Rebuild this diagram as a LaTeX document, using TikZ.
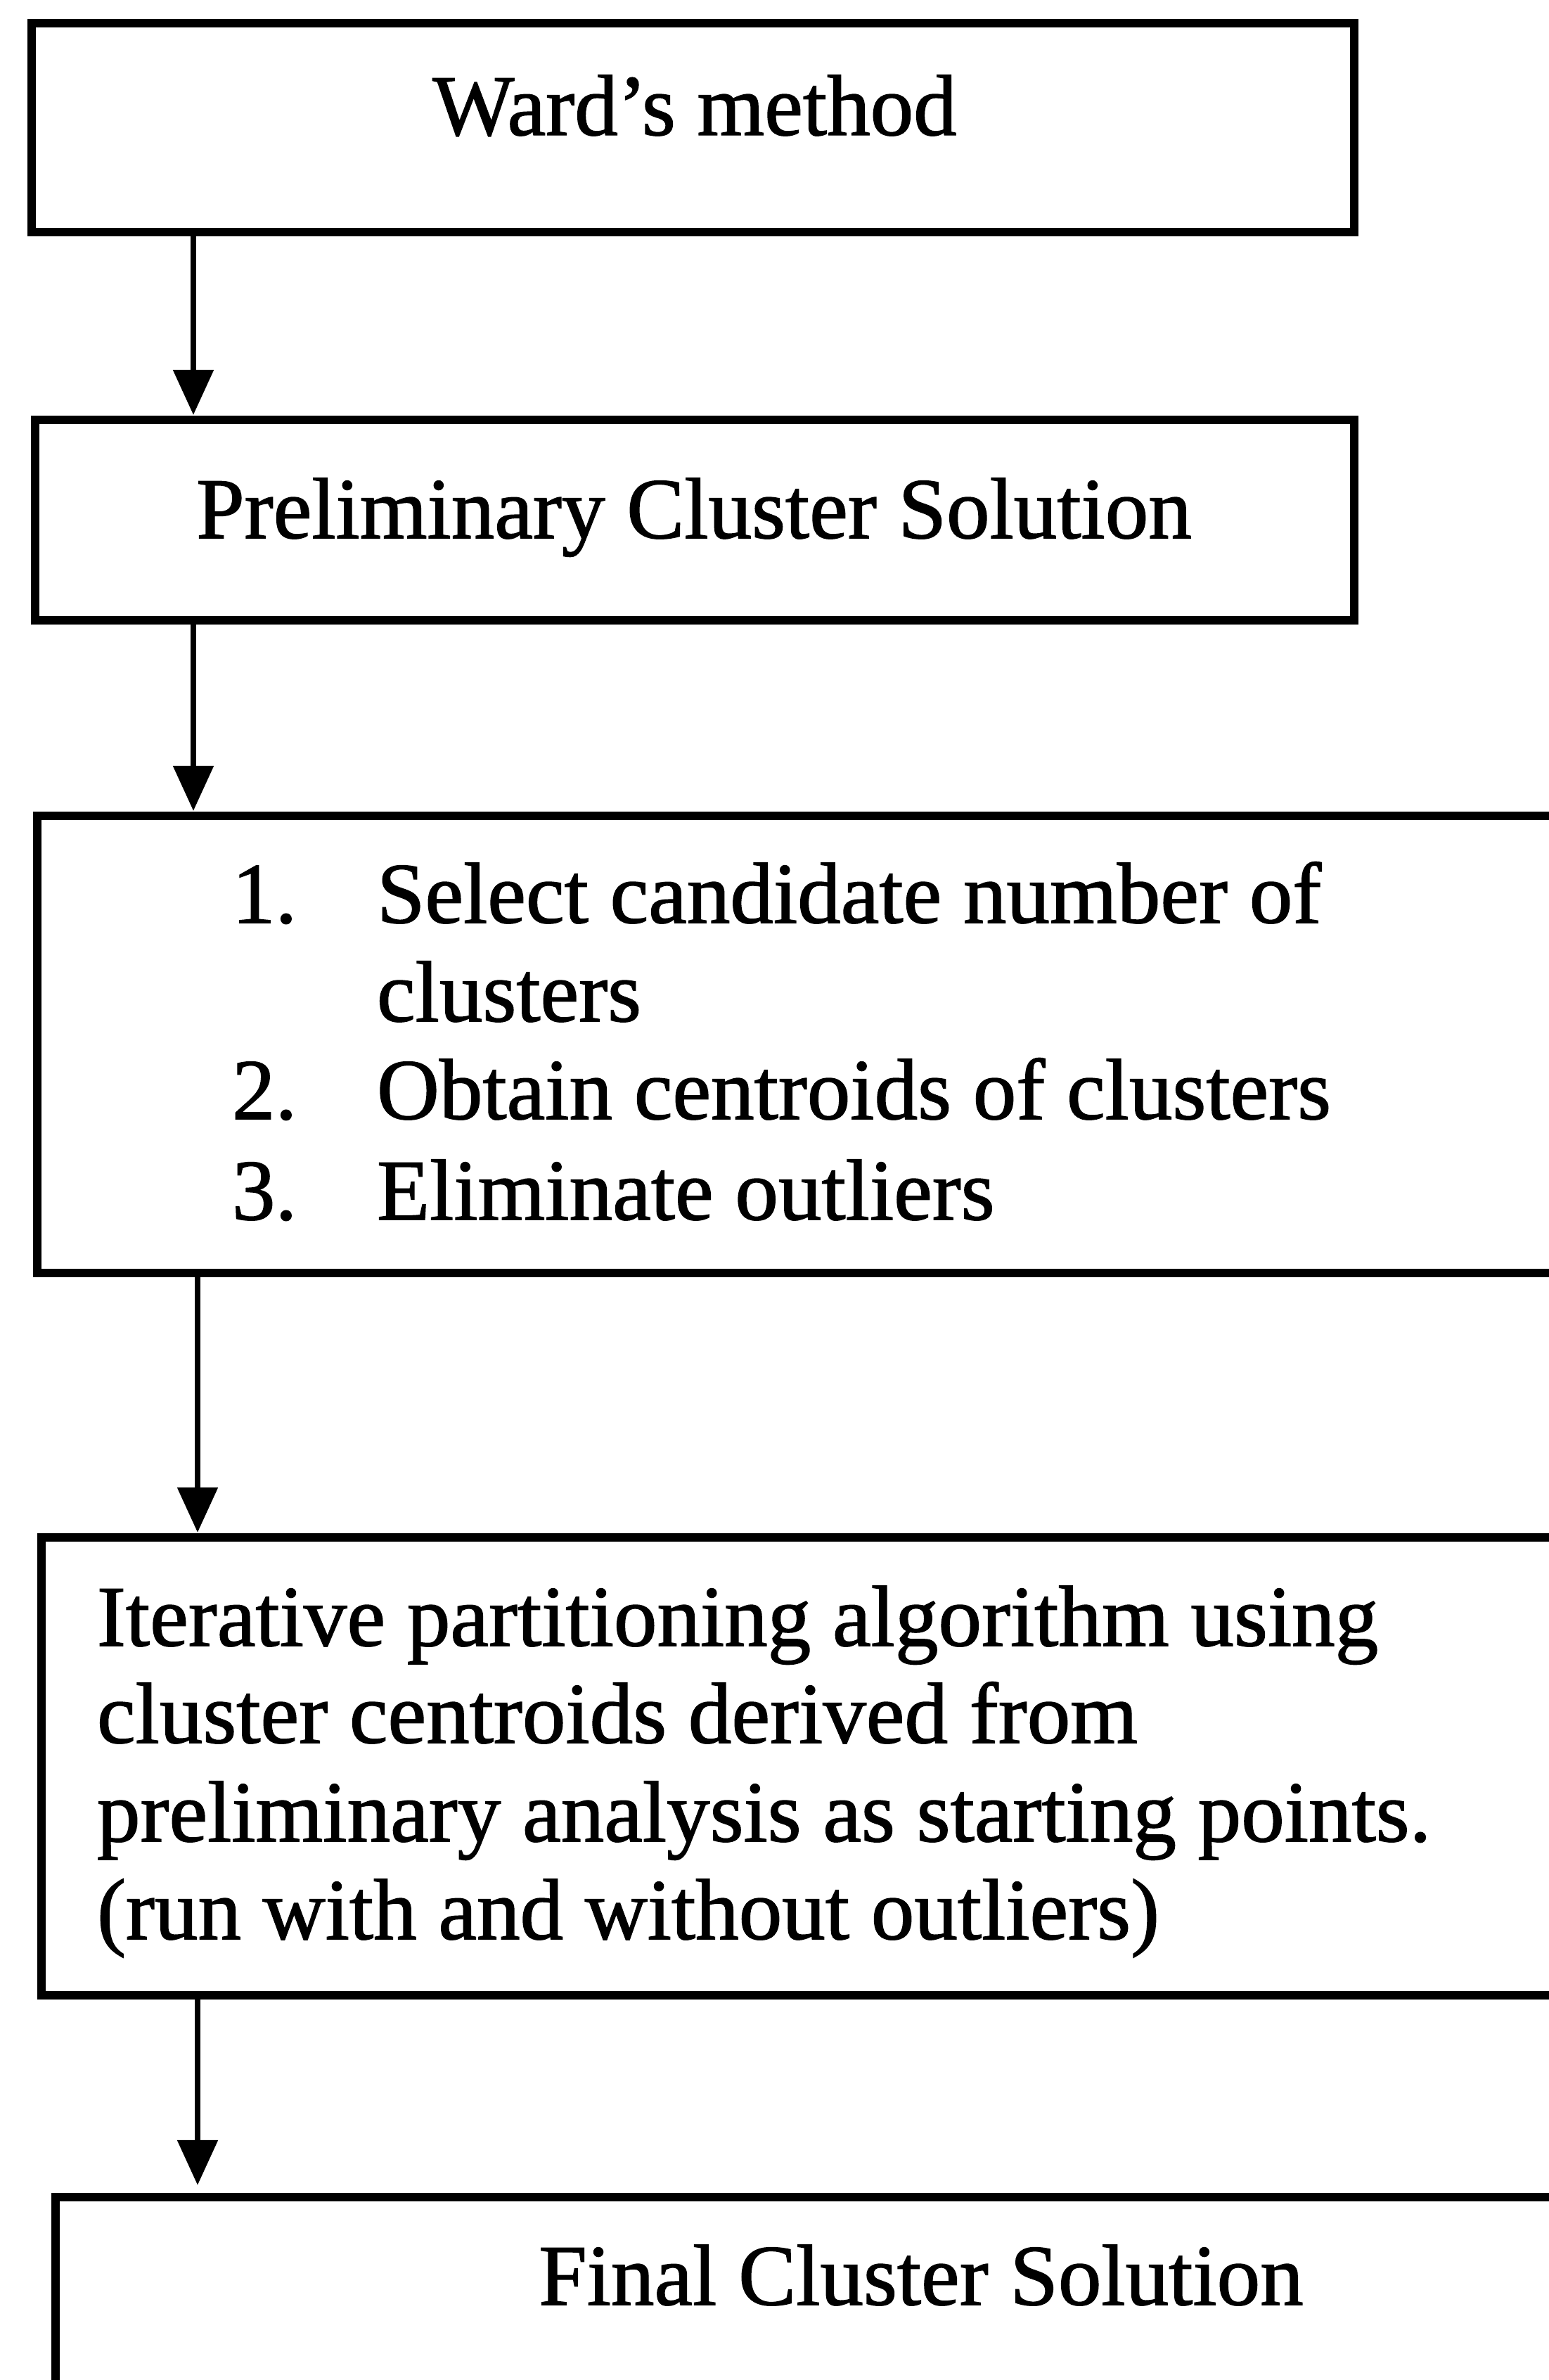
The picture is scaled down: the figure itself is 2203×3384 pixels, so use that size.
\documentclass[tikz,border=0pt]{standalone}
\usepackage{fontspec}
\setmainfont[FakeBold=1.2]{Liberation Serif}
\usetikzlibrary{arrows.meta}
\begin{document}
\begin{tikzpicture}[x=0.01cm,y=-0.01cm,
  box/.style={draw, line width=3.4pt, rectangle, inner sep=0pt, outer sep=0pt, anchor=north west},
  arr/.style={line width=2.4pt, -{Triangle[width=0.56cm,length=0.64cm]}, shorten >=0.07cm},
  txt/.style={inner sep=0pt, outer sep=0pt, font=\fontsize{35pt}{40pt}\selectfont}]
\useasboundingbox (0,0) rectangle (2203,3384);
\clip (0,0) rectangle (2203,3384);
\fill[white] (0,0) rectangle (2203,3384);

% boxes (the lower three run past the right edge of the page)
\node[box, minimum width=18.80cm, minimum height=2.97cm] (b1) at (45,33) {};
\node[box, minimum width=18.75cm, minimum height=2.85cm] (b2) at (50,597) {};
\node[box, minimum width=22.00cm, minimum height=6.50cm] (b3) at (53,1160) {};
\node[box, minimum width=22.00cm, minimum height=6.51cm] (b4) at (59,2186) {};
\node[box, minimum width=22.00cm, minimum height=4.00cm] (b5) at (79,3124) {};

% texts
\node[txt, anchor=base] (t1) at (988,192) {Ward’s method};
\node[txt, anchor=base] (t2) at (987,765) {Preliminary Cluster Solution};

\node[txt, anchor=base west] (n1) at (330,1312) {1.};
\node[txt, anchor=base west] (s1) at (536,1312) {Select candidate number of};
\node[txt, anchor=base west] (s1b) at (536,1452) {clusters};
\node[txt, anchor=base west] (n2) at (330,1591) {2.};
\node[txt, anchor=base west] (s2) at (536,1591) {Obtain centroids of clusters};
\node[txt, anchor=base west] (n3) at (330,1734) {3.};
\node[txt, anchor=base west] (s3) at (536,1734) {Eliminate outliers};

\node[txt, anchor=base west] (p1) at (138,2340) {Iterative partitioning algorithm using};
\node[txt, anchor=base west] (p2) at (138,2478) {cluster centroids derived from};
\node[txt, anchor=base west] (p3) at (138,2618) {preliminary analysis as starting points.};
\node[txt, anchor=base west] (p4) at (138,2757) {(run with and without outliers)};

\node[txt, anchor=base] (t5) at (1310,3277) {Final Cluster Solution};

% connectors
\coordinate (xa) at (275,0);
\coordinate (xb) at (281,0);
\draw[arr] (xa |- b1.south) -- (xa |- b2.north);
\draw[arr] (xa |- b2.south) -- (xa |- b3.north);
\draw[arr] (xb |- b3.south) -- (xb |- b4.north);
\draw[arr, shorten >=0.17cm] (xb |- b4.south) -- (xb |- b5.north);
\end{tikzpicture}
\end{document}
